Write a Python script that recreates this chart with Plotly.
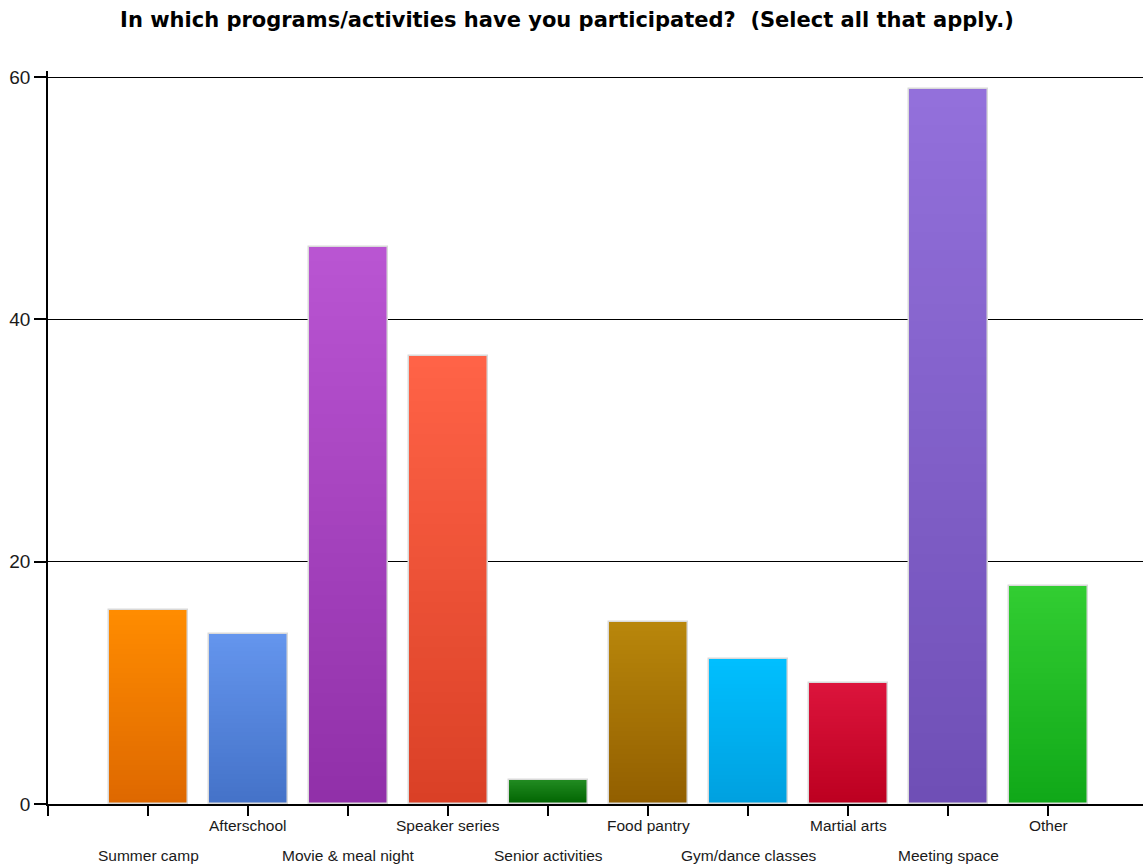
import plotly.graph_objects as go

categories = ["Summer camp", "Afterschool", "Movie & meal night", "Speaker series",
              "Senior activities", "Food pantry", "Gym/dance classes", "Martial arts",
              "Meeting space", "Other"]
values = [16, 14, 46, 37, 2, 15, 12, 10, 59, 18]
top_colors = ["#FF8C00", "#6495ED", "#BA55D3", "#FF6347", "#228B22",
              "#B8860B", "#00BFFF", "#DC143C", "#9370DB", "#32CD32"]
bottom_colors = ["#DE6800", "#4472C8", "#9030A8", "#DA4026", "#006400",
                 "#925F00", "#00A0DF", "#BC0020", "#6F4FB6", "#10A818"]
y_ticks = [0, 20, 40, 60]
title = "In which programs/activities have you participated?  (Select all that apply.)"


def hex_to_rgb(h):
    h = h.lstrip("#")
    return tuple(int(h[i:i + 2], 16) for i in (0, 2, 4))


def mix(c_bottom, c_top, f):
    b = hex_to_rgb(c_bottom)
    t = hex_to_rgb(c_top)
    return "rgb(%d,%d,%d)" % tuple(round(b[i] + (t[i] - b[i]) * f) for i in range(3))


xs = list(range(len(categories)))
N = 40
bar_w = 0.79
fig = go.Figure()
# vertical gradient: overlay successively shorter bars, colour taken at their top band
for k in range(N):
    frac = (N - k) / N
    mid = frac - 0.5 / N
    fig.add_trace(go.Bar(
        x=xs, y=[v * frac for v in values], width=bar_w,
        marker=dict(color=[mix(b, t, mid) for b, t in zip(bottom_colors, top_colors)],
                    line=dict(width=0)),
        hoverinfo="skip", showlegend=False))
# outline
fig.add_trace(go.Bar(
    x=xs, y=values, width=bar_w,
    marker=dict(color="rgba(0,0,0,0)", line=dict(color="#D9D9D9", width=1.5)),
    hovertemplate="%{customdata}: %{y}<extra></extra>", customdata=categories,
    showlegend=False))

annotations = []
for i, c in enumerate(categories):
    annotations.append(dict(
        x=i, xref="x", y=0, yref="paper", text=c, showarrow=False,
        yanchor="middle", xanchor="center",
        yshift=-21 if i % 2 == 1 else -51,
        font=dict(family="Liberation Sans, Arial, sans-serif", size=15.5, color="#1a1a1a")))

fig.update_layout(
    width=1143, height=867,
    margin=dict(l=48, r=0, t=71, b=63),
    paper_bgcolor="white", plot_bgcolor="white",
    barmode="overlay", bargap=0,
    title=dict(text="<b>" + title + "</b>", x=0.496, xanchor="center",
               y=0.977, yanchor="middle",
               font=dict(family="DejaVu Sans, sans-serif", size=21, color="black")),
    annotations=annotations,
    xaxis=dict(
        range=[-1, 9.95], tickmode="array", tickvals=list(range(-1, len(categories))),
        showticklabels=False, ticks="outside", ticklen=10, tickwidth=1.5, tickcolor="black",
        showgrid=False, showline=True, linecolor="black", linewidth=1.5, zeroline=False,
        fixedrange=True),
    yaxis=dict(
        range=[0, 60.5], tickmode="array", tickvals=y_ticks,
        ticks="outside", ticklen=12, tickwidth=1.5, tickcolor="black",
        showgrid=True, gridcolor="black", gridwidth=1,
        showline=True, linecolor="black", linewidth=1.5, zeroline=False,
        tickfont=dict(family="Liberation Sans, Arial, sans-serif", size=19, color="#1a1a1a"),
        fixedrange=True),
)

fig.write_html("out.html")
